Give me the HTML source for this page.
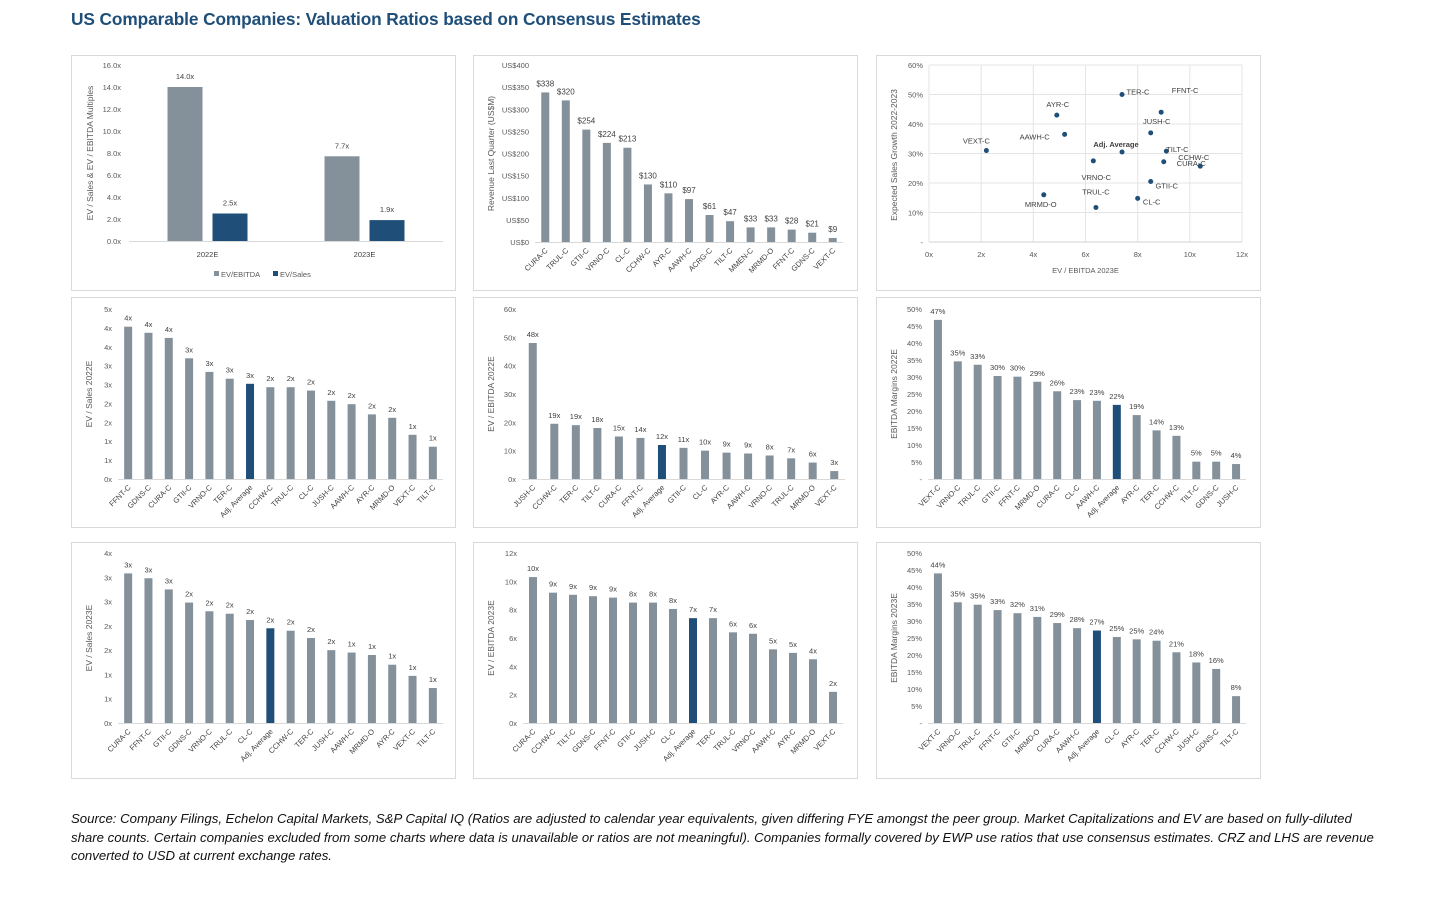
<!DOCTYPE html>
<html><head><meta charset="utf-8">
<style>
html,body{margin:0;padding:0;background:#fff;width:1440px;height:910px;overflow:hidden;font-family:"Liberation Sans",sans-serif}
#title{position:absolute;left:71px;top:9px;font-size:17.3px;font-weight:bold;color:#1f4e79;letter-spacing:-0.1px}
#src{position:absolute;left:71px;top:810px;font-size:13.2px;font-style:italic;color:#111;line-height:18.5px;white-space:nowrap;letter-spacing:0px}
svg{position:absolute;left:0;top:0}
</style></head><body>
<div id="title">US Comparable Companies: Valuation Ratios based on Consensus Estimates</div>
<svg id="page" width="1440" height="910"></svg>
<div id="src">Source: Company Filings, Echelon Capital Markets, S&amp;P Capital IQ (Ratios are adjusted to calendar year equivalents, given differing FYE amongst the peer group. Market Capitalizations and EV are based on fully-diluted<br>share counts. Certain companies excluded from some charts where data is unavailable or ratios are not meaningful). Companies formally covered by EWP use ratios that use consensus estimates. CRZ and LHS are revenue<br>converted to USD at current exchange rates.</div>
<script>
// ---- Chart 1: summary multiples
const sumCats = ["2022E","2023E"];
const sumEbitda = [14.0,7.7];
const sumSales = [2.5,1.9];
const sumTicks = ["0.0x","2.0x","4.0x","6.0x","8.0x","10.0x","12.0x","14.0x","16.0x"];
// ---- Chart 2: revenue
const revCats = ["CURA-C","TRUL-C","GTII-C","VRNO-C","CL-C","CCHW-C","AYR-C","AAWH-C","ACRG-C","TILT-C","MMEN-C","MRMD-O","FFNT-C","GDNS-C","VEXT-C"];
const revVals = [338,320,254,224,213,130,110,97,61,47,33,33,28,21,9];
const revTicks = ["US$0","US$50","US$100","US$150","US$200","US$250","US$300","US$350","US$400"];
// ---- Chart 3: scatter
const scNames = ["VEXT-C","AAWH-C","AYR-C","TER-C","FFNT-C","JUSH-C","Adj. Average","TILT-C","CCHW-C","CURA-C","VRNO-C","GTII-C","CL-C","TRUL-C","MRMD-O"];
const scX = [2.2,5.2,4.9,7.4,8.9,8.5,7.4,9.1,9.0,10.4,6.3,8.5,8.0,6.4,4.4];
const scY = [31,36.5,43,50,44,37,30.5,30.8,27.2,25.7,27.5,20.5,14.8,11.7,16];
const scXTicks = ["0x","2x","4x","6x","8x","10x","12x"];
const scYTicks = ["-","10%","20%","30%","40%","50%","60%"];
// ---- Chart 4: EV/Sales 2022E
const s22Cats = ["FFNT-C","GDNS-C","CURA-C","GTII-C","VRNO-C","TER-C","Adj. Average","CCHW-C","TRUL-C","CL-C","JUSH-C","AAWH-C","AYR-C","MRMD-O","VEXT-C","TILT-C"];
const s22Vals = [4.48,4.3,4.15,3.55,3.15,2.95,2.8,2.7,2.7,2.6,2.3,2.2,1.9,1.8,1.3,0.95];
const s22Labels = ["4x","4x","4x","3x","3x","3x","3x","2x","2x","2x","2x","2x","2x","2x","1x","1x"];
const s22Ticks = ["0x","1x","1x","2x","2x","3x","3x","4x","4x","5x"];
// ---- Chart 5: EV/EBITDA 2022E
const e22Cats = ["JUSH-C","CCHW-C","TER-C","TILT-C","CURA-C","FFNT-C","Adj. Average","GTII-C","CL-C","AYR-C","AAWH-C","VRNO-C","TRUL-C","MRMD-O","VEXT-C"];
const e22Vals = [48,19.5,19,18,15,14.5,12,11,10,9.3,9,8.3,7.3,5.8,2.8];
const e22Labels = ["48x","19x","19x","18x","15x","14x","12x","11x","10x","9x","9x","8x","7x","6x","3x"];
const e22Ticks = ["0x","10x","20x","30x","40x","50x","60x"];
// ---- Chart 6: EBITDA margins 2022E
const m22Cats = ["VEXT-C","VRNO-C","TRUL-C","GTII-C","FFNT-C","MRMD-O","CURA-C","CL-C","AAWH-C","Adj. Average","AYR-C","TER-C","CCHW-C","TILT-C","GDNS-C","JUSH-C"];
const m22Vals = [46.8,34.6,33.6,30.3,30.1,28.6,25.8,23.2,23.0,21.8,18.8,14.3,12.7,5.1,5.1,4.4];
const m22Labels = ["47%","35%","33%","30%","30%","29%","26%","23%","23%","22%","19%","14%","13%","5%","5%","4%"];
const m22Ticks = ["-","5%","10%","15%","20%","25%","30%","35%","40%","45%","50%"];
// ---- Chart 7: EV/Sales 2023E
const s23Cats = ["CURA-C","FFNT-C","GTII-C","GDNS-C","VRNO-C","TRUL-C","CL-C","Adj. Average","CCHW-C","TER-C","JUSH-C","AAWH-C","MRMD-O","AYR-C","VEXT-C","TILT-C"];
const s23Vals = [3.08,2.98,2.75,2.48,2.3,2.25,2.12,1.95,1.9,1.75,1.5,1.45,1.4,1.2,0.97,0.72];
const s23Labels = ["3x","3x","3x","2x","2x","2x","2x","2x","2x","2x","2x","1x","1x","1x","1x","1x"];
const s23Ticks = ["0x","1x","1x","2x","2x","3x","3x","4x"];
// ---- Chart 8: EV/EBITDA 2023E
const e23Cats = ["CURA-C","CCHW-C","TILT-C","GDNS-C","FFNT-C","GTII-C","JUSH-C","CL-C","Adj. Average","TER-C","TRUL-C","VRNO-C","AAWH-C","AYR-C","MRMD-O","VEXT-C"];
const e23Vals = [10.3,9.2,9.05,8.95,8.85,8.5,8.5,8.05,7.4,7.4,6.4,6.3,5.2,4.95,4.5,2.2];
const e23Labels = ["10x","9x","9x","9x","9x","8x","8x","8x","7x","7x","6x","6x","5x","5x","4x","2x"];
const e23Ticks = ["0x","2x","4x","6x","8x","10x","12x"];
// ---- Chart 9: EBITDA margins 2023E
const m23Cats = ["VEXT-C","VRNO-C","TRUL-C","FFNT-C","GTII-C","MRMD-O","CURA-C","AAWH-C","Adj. Average","CL-C","AYR-C","TER-C","CCHW-C","JUSH-C","GDNS-C","TILT-C"];
const m23Vals = [44,35.5,34.8,33.2,32.3,31.2,29.4,27.9,27.2,25.3,24.6,24.2,20.8,17.8,15.9,7.9];
const m23Labels = ["44%","35%","35%","33%","32%","31%","29%","28%","27%","25%","25%","24%","21%","18%","16%","8%"];
const m23Ticks = ["-","5%","10%","15%","20%","25%","30%","35%","40%","45%","50%"];

const NS="http://www.w3.org/2000/svg";
const svg=document.getElementById('page');
const GREY="#84919b", BLUE="#1f4e79", TXT="#595959";
function mk(tag,attrs,parent){const e=document.createElementNS(NS,tag);for(const k in attrs)e.setAttribute(k,attrs[k]);(parent||svg).appendChild(e);return e;}
function txt(s,attrs,parent){const e=mk('text',attrs,parent);e.textContent=s;return e;}

function panel(x,y,w,h,name){
  const g=mk('g',{});
  
  
  const r=mk('rect',{x:x+0.5,y:y+0.5,width:w,height:h,fill:'#fff',stroke:'#d9d9d9','stroke-width':1},g);
  
  
  return g;
}
function yAxisTitle(g,s,x,cy){
  const t=txt(s,{x:x,y:cy,'font-size':8.5,fill:TXT,'text-anchor':'middle',transform:`rotate(-90 ${x} ${cy})`},g);
  
  
}

function barChart(o){
  const g=panel(o.px,o.py,384,o.ph,o.name);
  const n=o.cats.length, slot=(o.x1-o.x0)/n;
  const ys=v=>o.y0-(v/o.max)*(o.y0-o.ytop);
  const nt=o.ticks.length;
  for(let i=0;i<nt;i++){
    const v=o.max*i/(nt-1);
    const t=txt(o.ticks[i],{x:o.x0-6,y:ys(v)+3,'font-size':7.5,fill:TXT,'text-anchor':'end'},g);
    
    
  }
  const ax=mk('line',{x1:o.x0,x2:o.x1,y1:o.y0+0.5,y2:o.y0+0.5,stroke:'#d9d9d9'},g);
  
  
  yAxisTitle(g,o.ytitle,o.px+21,(o.y0+o.ytop)/2);
  for(let i=0;i<n;i++){
    const cx=o.x0+slot*(i+0.5), v=o.vals[i];
    const b=mk('rect',{x:cx-4,y:ys(v),width:8,height:o.y0-ys(v),fill:o.cats[i]==="Adj. Average"?BLUE:GREY},g);
    
    
    const l=txt(o.labels[i],{x:cx,y:ys(v)-6,'font-size':o.lfs||7.5,fill:'#404040','text-anchor':'middle'},g);
    
    
    const c=txt(o.cats[i],{x:cx+3,y:o.y0+9,'font-size':7.5,fill:'#404040','text-anchor':'end',transform:`rotate(-45 ${cx+3} ${o.y0+9})`},g);
    
    
  }
}

// Chart 1
(function(){
  const g=panel(71,55,384,235,'summary-multiples-chart');
  const x0=129,x1=443,y0=241,ytop=65,max=16;
  const ys=v=>y0-(v/max)*(y0-ytop);
  sumTicks.forEach((s,i)=>{
    const t=txt(s,{x:x0-8,y:ys(i*2)+3,'font-size':7.5,fill:TXT,'text-anchor':'end'},g);
    
    
  });
  const ax=mk('line',{x1:x0,x2:x1,y1:y0+0.5,y2:y0+0.5,stroke:'#d9d9d9'},g);
  
  
  yAxisTitle(g,'EV / Sales & EV / EBITDA Multiples',93,153);
  const slot=(x1-x0)/sumCats.length;
  sumCats.forEach((c,i)=>{
    const cx=x0+slot*(i+0.5);
    const b1=mk('rect',{x:cx-40,y:ys(sumEbitda[i]),width:35,height:y0-ys(sumEbitda[i]),fill:GREY},g);
    
    
    const b2=mk('rect',{x:cx+5,y:ys(sumSales[i]),width:35,height:y0-ys(sumSales[i]),fill:BLUE},g);
    
    
    const l1=txt(sumEbitda[i].toFixed(1)+'x',{x:cx-22.5,y:ys(sumEbitda[i])-8,'font-size':7.5,fill:'#404040','text-anchor':'middle'},g);
    
    
    const l2=txt(sumSales[i].toFixed(1)+'x',{x:cx+22.5,y:ys(sumSales[i])-8,'font-size':7.5,fill:'#404040','text-anchor':'middle'},g);
    
    
    const t=txt(c,{x:cx,y:257,'font-size':7.5,fill:'#404040','text-anchor':'middle'},g);
    
    
  });
  const lg=mk('g',{},g);
  
  
  mk('rect',{x:214,y:271,width:5,height:5,fill:GREY},lg);
  txt('EV/EBITDA',{x:221,y:277,'font-size':7.5,fill:TXT},lg);
  mk('rect',{x:273,y:271,width:5,height:5,fill:BLUE},lg);
  txt('EV/Sales',{x:280,y:277,'font-size':7.5,fill:TXT},lg);
})();

barChart({name:'revenue-chart',px:473,py:55,ph:235,x0:535,x1:843,y0:242,ytop:65,max:400,cats:revCats,vals:revVals,labels:revVals.map(v=>'$'+v),ticks:revTicks,ytitle:'Revenue Last Quarter (US$M)',lfs:8});

// Chart 3 scatter
const scOff=[[-10,-10,'middle'],[-30,2,'middle'],[1,-11,'middle'],[16,-3,'middle'],[24,-22,'middle'],[6,-12,'middle'],[-6,-8,'middle'],[11,-2,'middle'],[30,-5,'middle'],[-9,-3,'middle'],[3,16,'middle'],[16,4,'middle'],[14,3,'middle'],[0,-16,'middle'],[-3,9,'middle']];
(function(){
  const g=panel(876,55,384,235,'sales-growth-scatter');
  const x0=929,x1=1242,y0=242,ytop=65;
  const xs=v=>x0+v/12*(x1-x0), ys=v=>y0-v/60*(y0-ytop);
  scYTicks.forEach((s,i)=>{
    const y=ys(i*10);
    if(i>0){const gl=mk('line',{x1:x0,x2:x1,y1:y,y2:y,stroke:'#e4e4e4'},g);
      
      }
    const t=txt(s,{x:x0-6,y:y+3,'font-size':7.5,fill:TXT,'text-anchor':'end'},g);
    
    
  });
  scXTicks.forEach((s,i)=>{
    const x=xs(i*2);
    const gl=mk('line',{x1:x,x2:x,y1:ytop,y2:y0,stroke:'#e4e4e4'},g);
    
    
    const t=txt(s,{x:x,y:y0+15,'font-size':7.5,fill:TXT,'text-anchor':'middle'},g);
    
    
  });
  const ax=mk('line',{x1:x0,x2:x1,y1:y0,y2:y0,stroke:'#d0d0d0'},g);
  
  
  const xt=txt('EV / EBITDA 2023E',{x:(x0+x1)/2,y:273,'font-size':7.5,fill:TXT,'text-anchor':'middle'},g);
  
  
  yAxisTitle(g,'Expected Sales Growth 2022-2023',897,155);
  scNames.forEach((nm,i)=>{
    const cx=xs(scX[i]),cy=ys(scY[i]);
    const p=mk('circle',{cx:cx,cy:cy,r:2.5,fill:BLUE},g);
    
    
    const o=scOff[i];
    const t=txt(nm,{x:cx+o[0],y:cy+o[1]+3,'font-size':7.5,fill:'#404040','text-anchor':'middle','font-weight':nm==='Adj. Average'?'bold':'normal'},g);
    
    
  });
})();

barChart({name:'ev-sales-2022-chart',px:71,py:297,ph:230,x0:118,x1:443,y0:479,ytop:309,max:5,cats:s22Cats,vals:s22Vals,labels:s22Labels,ticks:s22Ticks,ytitle:'EV / Sales 2022E'});
barChart({name:'ev-ebitda-2022-chart',px:473,py:297,ph:230,x0:522,x1:845,y0:479,ytop:309,max:60,cats:e22Cats,vals:e22Vals,labels:e22Labels,ticks:e22Ticks,ytitle:'EV / EBITDA 2022E'});
barChart({name:'ebitda-margin-2022-chart',px:876,py:297,ph:230,x0:928,x1:1246,y0:479,ytop:309,max:50,cats:m22Cats,vals:m22Vals,labels:m22Labels,ticks:m22Ticks,ytitle:'EBITDA Margins 2022E'});
barChart({name:'ev-sales-2023-chart',px:71,py:542,ph:236,x0:118,x1:443,y0:723,ytop:553,max:3.5,cats:s23Cats,vals:s23Vals,labels:s23Labels,ticks:s23Ticks,ytitle:'EV / Sales 2023E'});
barChart({name:'ev-ebitda-2023-chart',px:473,py:542,ph:236,x0:523,x1:843,y0:723,ytop:553,max:12,cats:e23Cats,vals:e23Vals,labels:e23Labels,ticks:e23Ticks,ytitle:'EV / EBITDA 2023E'});
barChart({name:'ebitda-margin-2023-chart',px:876,py:542,ph:236,x0:928,x1:1246,y0:723,ytop:553,max:50,cats:m23Cats,vals:m23Vals,labels:m23Labels,ticks:m23Ticks,ytitle:'EBITDA Margins 2023E'});
</script>
</body></html>
